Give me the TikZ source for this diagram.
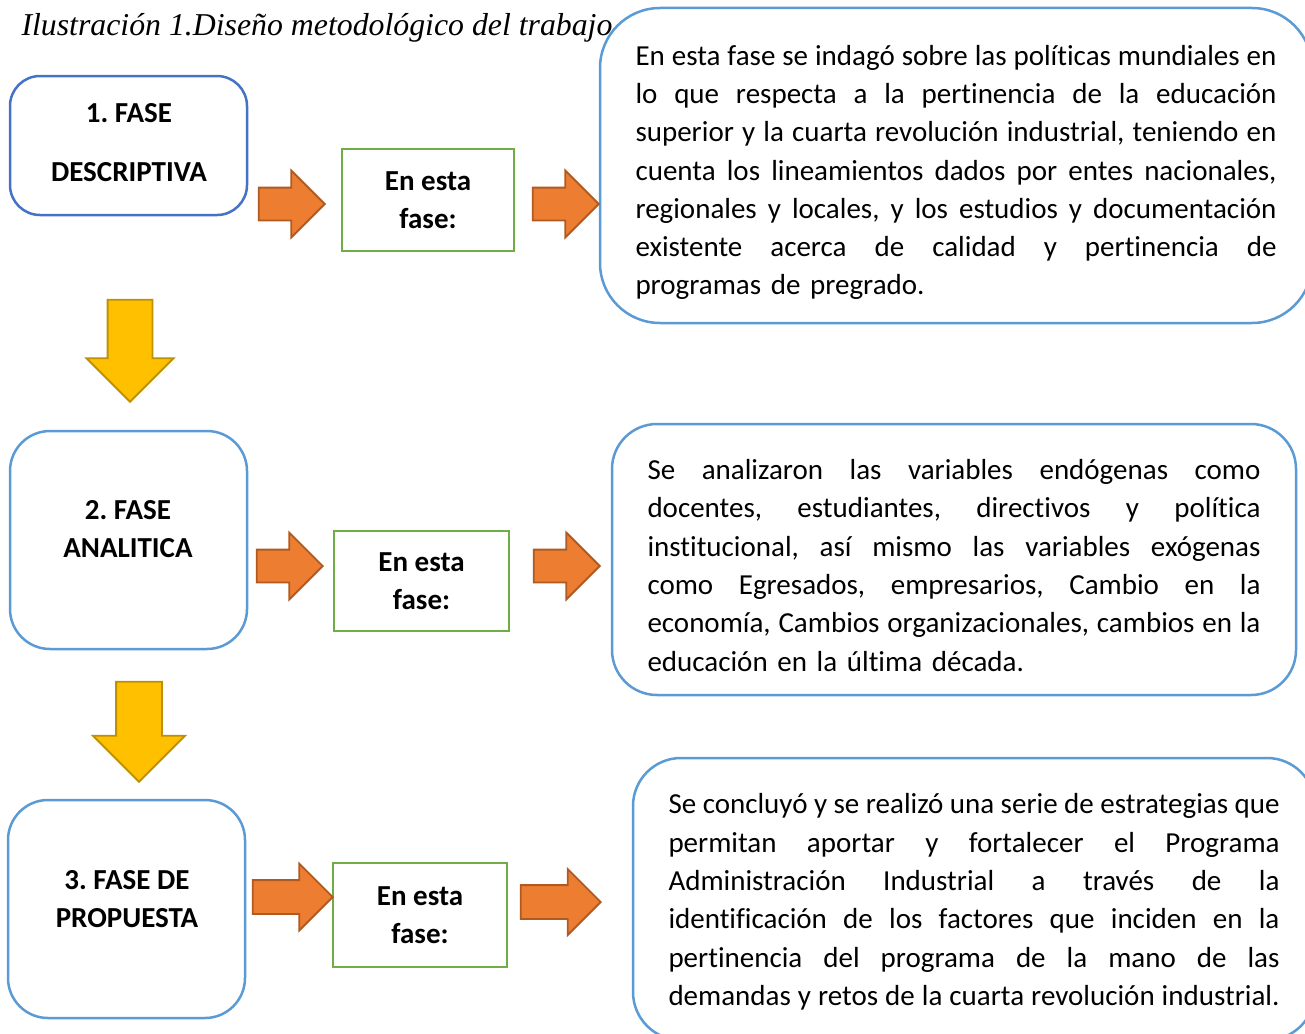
\documentclass[tikz,border=0pt]{standalone}
\usepackage{fontspec}
\setmainfont{Carlito}[Ligatures=NoCommon]
\newfontfamily\titlefont{Liberation Serif}
\usepackage{tikz}
\usetikzlibrary{shapes.arrows}
\definecolor{azul}{HTML}{5B9BD5}
\definecolor{azuloscuro}{HTML}{4472C4}
\definecolor{verde}{HTML}{70AD47}
\definecolor{naranja}{HTML}{ED7D31}
\definecolor{naranjaborde}{HTML}{AE5A21}
\definecolor{amarillo}{HTML}{FFC000}
\definecolor{amarilloborde}{HTML}{BF9000}
\newlength{\jlw}
\newcommand{\jl}[1]{\makebox[\jlw][s]{\spaceskip=0.226em plus 1fil minus 0.12em\relax #1}}
\frenchspacing

\begin{document}
\begin{tikzpicture}[x=1pt,y=-1pt,
	phase/.style={draw=azul,line width=2.5pt,rounded corners=40pt,fill=white,minimum width=237pt,inner sep=0pt},
	ptext/.style={font=\bfseries\fontsize{29}{38.3}\selectfont,align=center},
	enesta/.style={draw=verde,line width=2pt,fill=white,font=\bfseries\fontsize{29}{38.3}\selectfont,align=center,inner sep=0pt},
	desc/.style={draw=azul,line width=2.5pt,fill=white,rounded corners=50pt,align=left,inner sep=0pt,font=\fontsize{29}{38.3}\selectfont},
	oarrow/.style={single arrow,draw=naranjaborde,fill=naranja,line width=1.8pt,single arrow tip angle=90,single arrow head extend=17pt,inner xsep=0pt,inner ysep=15.5pt,anchor=tip},
	yarrow/.style={single arrow,draw=amarilloborde,fill=amarillo,line width=1.8pt,single arrow tip angle=90,single arrow head extend=21pt,inner ysep=0pt,inner xsep=21.5pt,shape border rotate=270,anchor=tip}]
	\useasboundingbox (0,0) rectangle (1305,1033);
	\clip (0,0) rectangle (1305,1033);
	\node[anchor=base west,font=\titlefont\itshape\fontsize{31.8}{38}\selectfont] (title) at (18,36) {Ilustración 1.Diseño metodológico del trabajo};

	\node[phase,draw=azuloscuro,rounded corners=30pt,minimum height=139pt] (f_1) at (128.5,145.5) {};
	\node[phase,minimum height=218pt] (f_2) at (128.5,540) {};
	\node[phase,minimum height=218pt] (f_3) at (126.5,909) {};
	\node[ptext,font=\bfseries\fontsize{29}{59}\selectfont] (l_1) at (129,142.5) {1. FASE\\DESCRIPTIVA};
	\node[ptext] (l_2) at (128,529) {2. FASE\\ANALITICA};
	\node[ptext] (l_3) at (127,899) {3. FASE DE\\PROPUESTA};

	\node[enesta,minimum width=172pt,minimum height=102pt] (e_1) at (428,200) {En esta\\fase:};
	\node[enesta,minimum width=175pt,minimum height=100pt] (e_2) at (421.5,581) {En esta\\fase:};
	\node[enesta,minimum width=174pt,minimum height=104pt] (e_3) at (420,915) {En esta\\fase:};

	\node[desc,rounded corners=60pt,text width=641pt,minimum width=712pt,minimum height=315pt] (t_1) at (956,165.5) {%
		\setlength{\jlw}{641pt}%
		\rule{0pt}{34pt}\jl{En esta fase se indagó sobre las políticas mundiales en}\\
		\jl{lo que respecta a la pertinencia de la educación}\\
		\jl{superior y la cuarta revolución industrial, teniendo en}\\
		\jl{cuenta los lineamientos dados por entes nacionales,}\\
		\jl{regionales y locales, y los estudios y documentación}\\
		\jl{existente acerca de calidad y pertinencia de}\\
		programas de pregrado.};
	\node[desc,rounded corners=45pt,text width=613pt,minimum width=684pt,minimum height=271pt] (t_2) at (954,559.5) {%
		\setlength{\jlw}{613pt}%
		\rule{0pt}{32pt}\jl{Se analizaron las variables endógenas como}\\
		\jl{docentes, estudiantes, directivos y política}\\
		\jl{institucional, así mismo las variables exógenas}\\
		\jl{como Egresados, empresarios, Cambio en la}\\
		\jl{economía, Cambios organizacionales, cambios en la}\\
		educación en la última década.};
	\node[desc,rounded corners=48pt,text width=611pt,minimum width=682pt,minimum height=282pt] (t_3) at (974,899) {%
		\setlength{\jlw}{611pt}%
		\rule{0pt}{26pt}\jl{Se concluyó y se realizó una serie de estrategias que}\\
		\jl{permitan aportar y fortalecer el Programa}\\
		\jl{Administración Industrial a través de la}\\
		\jl{identificación de los factores que inciden en la}\\
		\jl{pertinencia del programa de la mano de las}\\
		\jl{demandas y retos de la cuarta revolución industrial.}};

	\node[oarrow,minimum height=66pt] (a_1) at (326,204) {};
	\node[oarrow,minimum height=66pt] (b_1) at (600,204) {};
	\node[oarrow,minimum height=66pt] (a_2) at (324,566) {};
	\node[oarrow,minimum height=66pt] (b_2) at (601,566) {};
	\node[oarrow,minimum height=80pt,single arrow head extend=16.5pt,inner ysep=16pt] (a_3) at (334,897) {};
	\node[oarrow,minimum height=80pt,single arrow head extend=16pt,inner ysep=16pt] (b_3) at (602,902) {};
	\node[yarrow,minimum height=102pt] (d_1) at (130,403) {};
	\node[yarrow,minimum height=100pt,single arrow head extend=23pt,inner xsep=22pt] (d_2) at (139,783) {};
\end{tikzpicture}
\end{document}
